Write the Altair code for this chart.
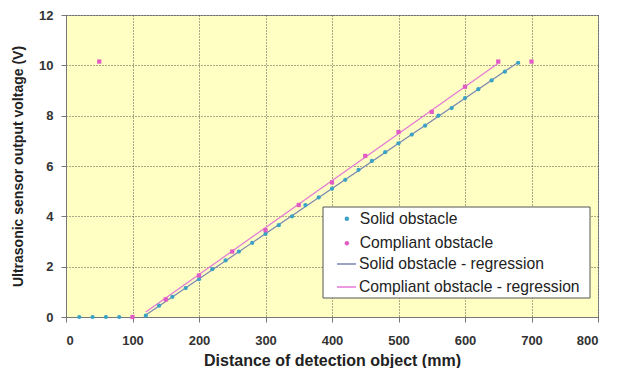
import altair as alt
import pandas as pd

solid_x = [20, 40, 60, 80, 120, 140, 160, 180, 200, 220, 240, 260, 280, 300, 320, 340, 360, 380,
           400, 420, 440, 460, 480, 500, 520, 540, 560, 580, 600, 620, 640, 660, 680]
solid_y = [0, 0, 0, 0, 0.05, 0.45, 0.8, 1.15, 1.5, 1.9, 2.25, 2.6, 2.95, 3.3, 3.65, 4.0, 4.45, 4.75,
           5.1, 5.45, 5.85, 6.2, 6.55, 6.9, 7.25, 7.6, 8.0, 8.3, 8.7, 9.05, 9.4, 9.75, 10.1]
comp_x = [50, 100, 150, 200, 250, 300, 350, 400, 450, 500, 550, 600, 650, 700]
comp_y = [10.15, 0, 0.7, 1.65, 2.6, 3.45, 4.45, 5.35, 6.4, 7.35, 8.15, 9.15, 10.15, 10.15]

series = ["Solid obstacle", "Compliant obstacle",
          "Solid obstacle - regression", "Compliant obstacle - regression"]
colors = ["#3aa2c4", "#e05cc4", "#7a86b0", "#e477d6"]

pts = pd.DataFrame({
    "d": solid_x + comp_x,
    "v": solid_y + comp_y,
    "series": [series[0]] * len(solid_x) + [series[1]] * len(comp_x),
})

x = alt.X("d:Q", scale=alt.Scale(domain=[0, 800], nice=False),
          axis=alt.Axis(values=list(range(0, 801, 100)), title="Distance of detection object (mm)"))
y = alt.Y("v:Q", scale=alt.Scale(domain=[0, 12], nice=False),
          axis=alt.Axis(values=list(range(0, 13, 2)), title="Ultrasonic sensor output voltage (V)"))

legend_common = dict(title=None, orient="none", padding=0, labelFontSize=15.7,
                     labelFont="Liberation Sans", labelColor="#222222", labelLimit=400)

color_pts = alt.Color("series:N", scale=alt.Scale(domain=series[:2], range=colors[:2]),
                      legend=alt.Legend(legendX=273, legendY=196, rowPadding=7.5,
                                        labelOffset=5, symbolSize=20, **legend_common))
shape_pts = alt.Shape("series:N", scale=alt.Scale(domain=series[:2], range=["circle", "square"]),
                      legend=None)
color_reg = alt.Color("series:N", scale=alt.Scale(domain=series[2:], range=colors[2:]),
                      legend=alt.Legend(legendX=270, legendY=238.5, rowPadding=4,
                                        labelOffset=2, symbolSize=361, symbolStrokeWidth=1.5,
                                        symbolType="stroke", **legend_common))

base = alt.Chart(pts)

solid_reg = base.transform_filter(
    (alt.datum.series == series[0]) & (alt.datum.d >= 120)
).transform_regression("d", "v", extent=[120, 680]).transform_calculate(
    series=f"'{series[2]}'")
comp_reg = base.transform_filter(
    (alt.datum.series == series[1]) & (alt.datum.d >= 100) & (alt.datum.d <= 650)
).transform_regression("d", "v", extent=[120, 650]).transform_calculate(
    series=f"'{series[3]}'")

lines = alt.layer(
    solid_reg.mark_line(strokeWidth=1.2).encode(x=x, y=y, color=color_reg),
    comp_reg.mark_line(strokeWidth=1.2).encode(x=x, y=y, color=color_reg),
)

points = base.mark_point(filled=True, opacity=1, size=18).encode(
    x=x, y=y, color=color_pts, shape=shape_pts)

frame = alt.Chart(pd.DataFrame({"k": [0]})).mark_rect(
    fill="white", stroke="#555555", strokeWidth=1
).encode(x=alt.value(257), x2=alt.value(524), y=alt.value(192), y2=alt.value(283))

chart = alt.layer(lines, points, frame).resolve_scale(color="independent").properties(
    width=532, height=302,
    autosize=alt.AutoSizeParams(type="none"),
    padding={"left": 58, "top": 7, "right": 12, "bottom": 51},
    background="white",
).configure_view(
    fill="#ffffc4", stroke="#999999", strokeWidth=1
).configure_axis(
    grid=True, gridColor="#444444", gridDash=[1, 2], gridWidth=1, gridOpacity=0.9,
    domainColor="#777777", tickColor="#777777", tickSize=5,
    labelFont="Liberation Sans", labelFontWeight="bold", labelFontSize=13, labelColor="#333333",
    titleFont="Liberation Sans", titleFontWeight="bold", titleColor="#222222",
).configure_axisX(
    labelPadding=12, titleFontSize=16, titlePadding=5
).configure_axisY(
    labelPadding=8, titleFontSize=14, titlePadding=13
)

chart.save("out.html", embed_options={"renderer": "svg", "actions": False})
